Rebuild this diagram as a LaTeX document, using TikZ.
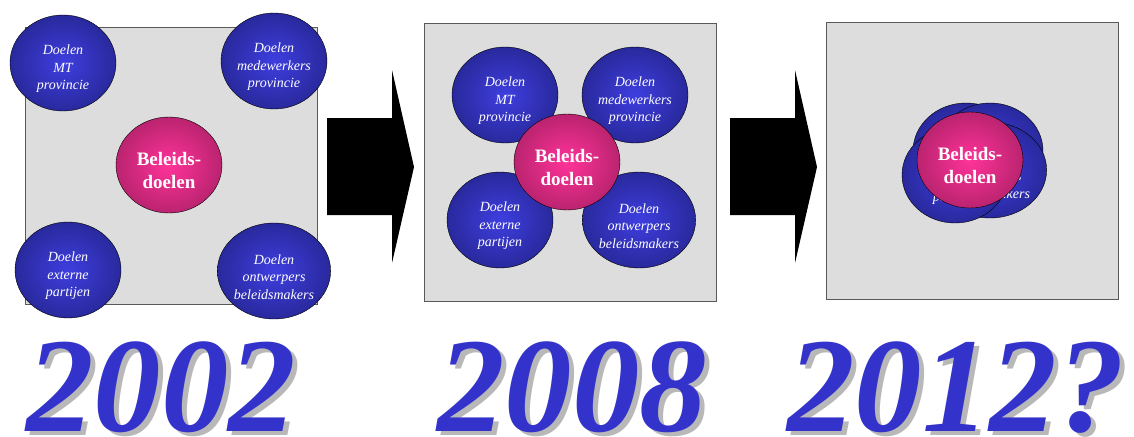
\documentclass[tikz,border=0pt]{standalone}
\usepackage{fontspec}
\setmainfont{Liberation Serif}
\usetikzlibrary{shapes.geometric}

\definecolor{goalin}{HTML}{3E3EE0}
\definecolor{goalout}{HTML}{14145A}
\definecolor{corein}{HTML}{FF3399}
\definecolor{coreout}{HTML}{761446}
\definecolor{yearblue}{HTML}{3333CC}
\definecolor{panelgray}{HTML}{DDDDDD}
\pgfdeclareradialshading{goalshade}{\pgfpoint{0bp}{0bp}}{color(0bp)=(goalin); color(50bp)=(goalout)}
\pgfdeclareradialshading{coreshade}{\pgfpoint{0bp}{0bp}}{color(0bp)=(corein); color(50bp)=(coreout)}
% taller first line, so the text sits a little below the centre
\newcommand\goalgap{\rule{0pt}{21.5pt}}
\newcommand\coregap{\rule{0pt}{25pt}}

\begin{document}
\begin{tikzpicture}
        [x=1pt,y=-1pt,every node/.style={text=white,align=center},
         panel/.style={draw=black!65,line width=0.8pt,fill=panelgray,minimum width=292pt,minimum height=277pt},
         goal/.style={ellipse,draw=black,shading=goalshade,minimum width=106pt,minimum height=96pt,inner sep=0pt,
                      font=\fontsize{14}{17.5}\selectfont\itshape},
         core/.style={ellipse,draw=black,shading=coreshade,minimum width=106pt,minimum height=96pt,inner sep=0pt,
                      font=\fontsize{19}{23}\selectfont\bfseries},
         year/.style={text=yearblue,anchor=base,inner sep=0pt,font=\fontsize{135}{135}\selectfont\bfseries\itshape},
         yearshadow/.style={year,text=black!28}]
        \useasboundingbox (0,0) rectangle (1134,436);

        % 2002
        \node[panel] (p1) at (171,165.5) {};
        \node[goal] (mt1) at (63,63) {\goalgap Doelen\\MT\\provincie};
        \node[goal] (mw1) at (274,61) {\goalgap Doelen\\medewerkers\\provincie};
        \node[goal] (ext1) at (68,270) {\goalgap Doelen\\externe\\partijen};
        \node[goal] (ow1) at (274,271) {\goalgap Doelen\\ontwerpers\\beleidsmakers};
        \node[core] (bd1) at (169,165) {\coregap Beleids-\\doelen};

        % 2008
        \node[panel,minimum height=278pt] (p2) at (570,162) {};
        \node[goal] (mt2) at (505,95) {\goalgap Doelen\\MT\\provincie};
        \node[goal] (mw2) at (635,95) {\goalgap Doelen\\medewerkers\\provincie};
        \node[goal] (ext2) at (500,220) {\goalgap Doelen\\externe\\partijen};
        \node[goal] (ow2) at (639,220) {\goalgap Doelen\\ontwerpers\\beleidsmakers};
        \node[core] (bd2) at (567,162) {\coregap Beleids-\\doelen};

        % 2012?
        \node[panel] (p3) at (972,160.5) {};
        \node[goal] (mt3) at (966,151) {\goalgap Doelen\\MT\\provincie};
        \node[goal] (mw3) at (990,151) {\goalgap Doelen\\medewerkers\\provincie};
        \node[goal] (ow3) at (990,170) {\goalgap Doelen\\ontwerpers\\beleidsmakers};
        \node[goal] (ext3) at (955,175) {\goalgap Doelen\\externe\\partijen};
        \node[core] (bd3) at (970,160) {\coregap Beleids-\\doelen};

        \foreach \x in {327,730}
            \fill (\x,118) -- ++(65,0) -- ++(0,-48) -- ++(22,97) -- ++(-22,96) -- ++(0,-48) -- ++(-65,0) -- cycle;

        \node[yearshadow] (y1s) at (166,435) {2002};
        \node[year] (y1) at (161,431) {2002};
        \node[yearshadow] (y2s) at (577,435) {2008};
        \node[year] (y2) at (572,431) {2008};
        \node[yearshadow] (y3s) at (961,435) {2012?};
        \node[year] (y3) at (956,431) {2012?};

      \end{tikzpicture}
\end{document}
